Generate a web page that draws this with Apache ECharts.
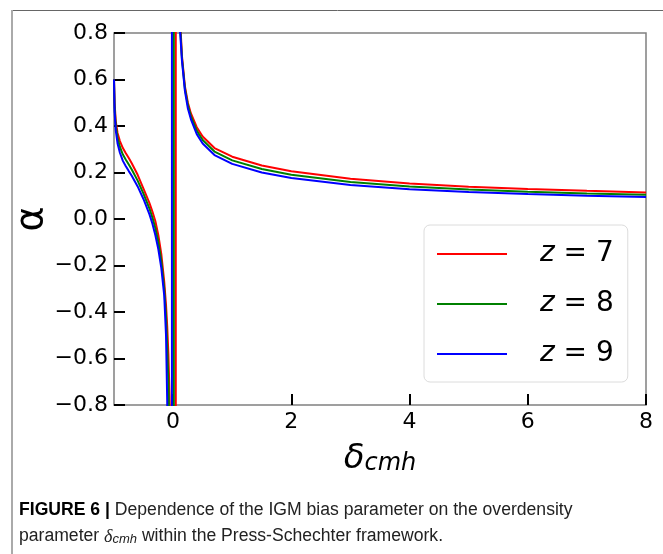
<!DOCTYPE html>
<html lang="en">
<head>
    <meta charset="UTF-8">
    <title>IGM bias parameter</title>
    <script src="https://cdn.jsdelivr.net/npm/echarts@6/dist/echarts.min.js"></script>
    <style>
        html, body { margin: 0; padding: 0; background: #fff; }
        #chart { width: 663px; height: 554px; }
    </style>
</head>
<body>
    <div id="chart"></div>
    <script>
        // values: [delta_cmh, alpha]
        var zNames = ['z = 7', 'z = 8', 'z = 9'];
        var zColors = ['#ff0000', '#008000', '#0000ff'];
        var xTicks = [0, 2, 4, 6, 8];
        var yTicks = [-0.8, -0.6, -0.4, -0.2, 0, 0.2, 0.4, 0.6, 0.8];

        var z7 = [
            [-1, 0.6], [-0.99, 0.5], [-0.97, 0.42], [-0.94, 0.37], [-0.9, 0.335], [-0.85, 0.305],
            [-0.8, 0.283], [-0.75, 0.262], [-0.7, 0.24], [-0.6, 0.19], [-0.5, 0.13], [-0.4, 0.068],
            [-0.35, 0.032], [-0.3, -0.01], [-0.25, -0.07], [-0.2, -0.15], [-0.15, -0.27], [-0.12, -0.37],
            [-0.1, -0.46], [-0.08, -0.58], [-0.06, -0.76], [-0.05, -0.9], [-0.045, -1.2],
            [0.045, -6], [0.045, 6],
            [0.11, 1.0], [0.13, 0.8], [0.15, 0.7], [0.2, 0.57], [0.25, 0.5], [0.3, 0.455], [0.4, 0.395],
            [0.5, 0.355], [0.7, 0.305], [1, 0.268], [1.5, 0.23], [2, 0.205], [3, 0.173], [4, 0.153],
            [5, 0.139], [6, 0.129], [7, 0.121], [8, 0.114]
        ];
        var z8 = [
            [-1, 0.6], [-0.99, 0.48], [-0.97, 0.4], [-0.94, 0.35], [-0.9, 0.31], [-0.85, 0.277],
            [-0.8, 0.255], [-0.75, 0.234], [-0.7, 0.213], [-0.6, 0.165], [-0.5, 0.108], [-0.4, 0.045],
            [-0.35, 0.006], [-0.3, -0.04], [-0.25, -0.1], [-0.2, -0.18], [-0.15, -0.3], [-0.12, -0.42],
            [-0.1, -0.55], [-0.08, -0.7], [-0.07, -0.82], [-0.065, -1.2],
            [0.012, -6], [0.012, 6],
            [0.1, 1.0], [0.125, 0.8], [0.15, 0.69], [0.2, 0.56], [0.25, 0.49], [0.3, 0.443], [0.4, 0.38],
            [0.5, 0.34], [0.7, 0.29], [1, 0.252], [1.5, 0.215], [2, 0.19], [3, 0.159], [4, 0.14],
            [5, 0.127], [6, 0.117], [7, 0.11], [8, 0.104]
        ];
        var z9 = [
            [-1, 0.6], [-0.99, 0.46], [-0.97, 0.38], [-0.94, 0.325], [-0.9, 0.285], [-0.85, 0.25],
            [-0.8, 0.227], [-0.75, 0.206], [-0.7, 0.186], [-0.6, 0.14], [-0.5, 0.085], [-0.4, 0.02],
            [-0.35, -0.02], [-0.3, -0.07], [-0.25, -0.13], [-0.2, -0.21], [-0.15, -0.33], [-0.12, -0.5],
            [-0.1, -0.78], [-0.095, -0.9], [-0.09, -1.2],
            [-0.02, -6], [-0.02, 6],
            [0.1, 1.0], [0.12, 0.8], [0.15, 0.68], [0.2, 0.55], [0.25, 0.475], [0.3, 0.43], [0.4, 0.365],
            [0.5, 0.325], [0.7, 0.275], [1, 0.237], [1.5, 0.2], [2, 0.176], [3, 0.146], [4, 0.128],
            [5, 0.116], [6, 0.107], [7, 0.1], [8, 0.095]
        ];
        var zData = [z7, z8, z9];

        var chart = echarts.init(document.getElementById('chart'));
        var font = 'DejaVu Sans';

        var option = {
            animation: false,
            backgroundColor: '#fff',
            grid: {
                left: 114, top: 33, right: 17, bottom: 149,
                outerBoundsMode: 'none',
                show: true, borderColor: '#808080', borderWidth: 1.5
            },
            legend: {
                orient: 'vertical',
                left: 424, top: 225,
                padding: [15, 14, 14, 13],
                itemGap: 22,
                icon: 'rect',
                itemWidth: 70, itemHeight: 2,
                borderColor: '#dcdcdc', borderWidth: 1, borderRadius: 6,
                backgroundColor: 'rgba(255,255,255,0.85)',
                selectedMode: false,
                data: zNames,
                formatter: function (name) {
                    return '{i|z}{n|' + name.slice(1) + '}';
                },
                textStyle: {
                    rich: {
                        i: { fontFamily: font, fontStyle: 'italic', fontSize: 28, color: '#000', lineHeight: 36, padding: [0, 0, 0, 28] },
                        n: { fontFamily: font, fontSize: 28, color: '#000', lineHeight: 36 }
                    }
                }
            },
            xAxis: {
                type: 'value', min: -1, max: 8,
                axisLine: { show: false, onZero: false },
                splitLine: { show: false },
                axisTick: {
                    inside: true, length: 11, customValues: xTicks,
                    lineStyle: { color: '#000', width: 2 }
                },
                axisLabel: {
                    customValues: xTicks, margin: 6,
                    fontFamily: font, fontSize: 22, color: '#000'
                },
                name: '{d|δ}{s|cmh}',
                nameLocation: 'middle', nameGap: 31,
                nameMoveOverlap: false,
                nameTextStyle: {
                    rich: {
                        d: { fontFamily: font, fontStyle: 'italic', fontSize: 34, color: '#000', lineHeight: 40, verticalAlign: 'bottom' },
                        s: { fontFamily: font, fontStyle: 'italic', fontSize: 24, color: '#000', lineHeight: 24, verticalAlign: 'bottom' }
                    }
                }
            },
            yAxis: {
                type: 'value', min: -0.8, max: 0.8, interval: 0.2,
                axisLine: { show: false, onZero: false },
                splitLine: { show: false },
                axisTick: {
                    inside: true, length: 11, customValues: yTicks,
                    lineStyle: { color: '#000', width: 2 }
                },
                axisLabel: {
                    customValues: yTicks, margin: 6,
                    fontFamily: font, fontSize: 22, color: '#000',
                    formatter: function (v) {
                        var s = Math.abs(v).toFixed(1);
                        return v < -1e-9 ? '\u2212' + s : s;
                    }
                },
                name: 'α',
                nameLocation: 'middle', nameGap: 63, nameRotate: 90,
                nameMoveOverlap: false,
                nameTextStyle: { fontFamily: font, fontSize: 38, color: '#000' }
            },
            series: zData.map(function (d, i) {
                return {
                    name: zNames[i],
                    type: 'line',
                    data: d,
                    showSymbol: false,
                    symbol: 'none',
                    clip: true,
                    color: zColors[i],
                    lineStyle: { color: zColors[i], width: 2 }
                };
            }),
            graphic: [
                { type: 'line', shape: { x1: 12, y1: 10.5, x2: 663, y2: 10.5 }, style: { stroke: '#666', lineWidth: 1 } },
                { type: 'line', shape: { x1: 12, y1: 10, x2: 12, y2: 554 }, style: { stroke: '#aaa', lineWidth: 2 } },
                {
                    type: 'text', left: 19, top: 501,
                    style: {
                        text: '{b|FIGURE 6 |} Dependence of the IGM bias parameter on the overdensity',
                        fontFamily: 'Liberation Sans', fontSize: 17.6, fill: '#222',
                        rich: { b: { fontFamily: 'Liberation Sans', fontSize: 17.6, fontWeight: 'bold', fill: '#000' } }
                    }
                },
                {
                    type: 'text', left: 19, top: 527,
                    style: {
                        text: 'parameter {d|δ}{s|cmh} within the Press-Schechter framework.',
                        fontFamily: 'Liberation Sans', fontSize: 17.6, fill: '#222',
                        rich: {
                            d: { fontFamily: 'Liberation Serif', fontStyle: 'italic', fontSize: 18, fill: '#222', verticalAlign: 'bottom', lineHeight: 20 },
                            s: { fontFamily: 'Liberation Sans', fontStyle: 'italic', fontSize: 13, fill: '#222', verticalAlign: 'bottom', lineHeight: 14 }
                        }
                    }
                }
            ]
        };

        chart.setOption(option);
    </script>
</body>
</html>
